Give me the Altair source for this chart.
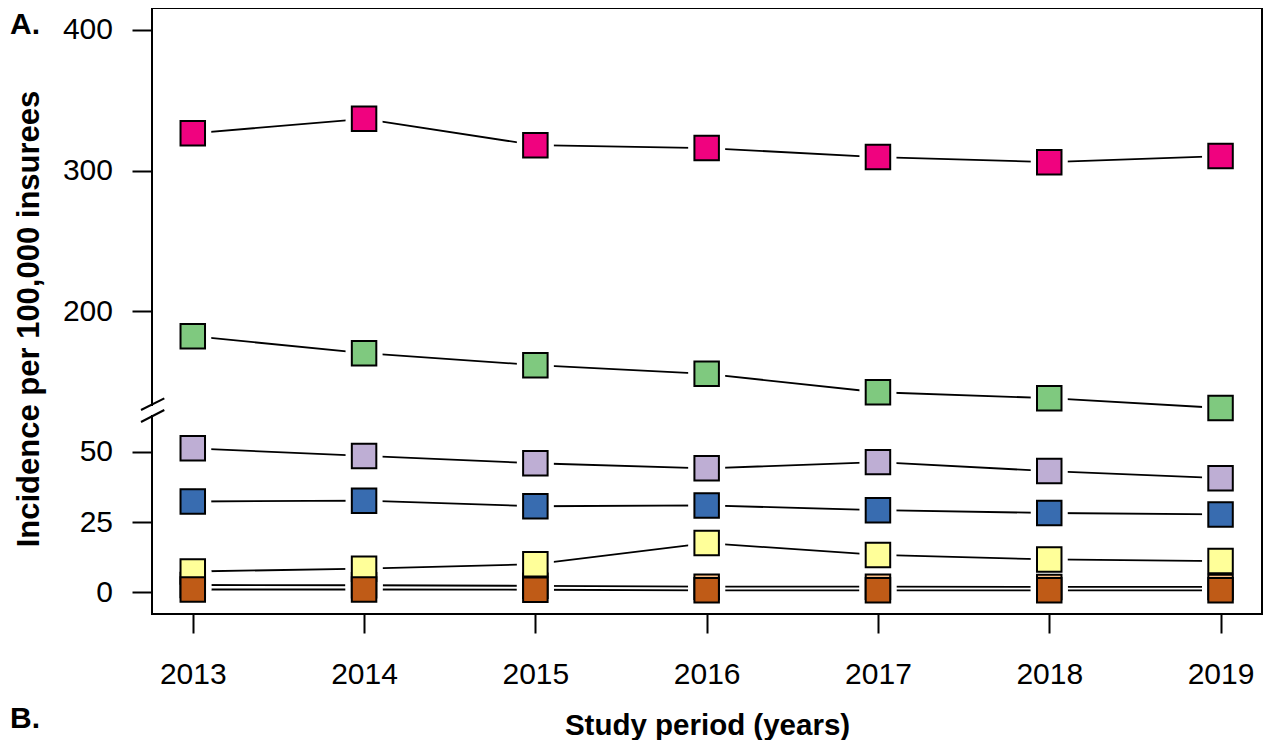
import altair as alt
import pandas as pd

# ---- data ----
years = [2013, 2014, 2015, 2016, 2017, 2018, 2019]
series_names = ["Series 1", "Series 2", "Series 3", "Series 4", "Series 5", "Series 6", "Series 7"]
series_colors = ["#F0027F", "#7FC97F", "#BEAED4", "#386CB0", "#FDC086", "#FFFF99", "#BF5B17"]
s1 = [326.5, 336.8, 318.1, 316.0, 309.6, 306.0, 310.3]
s2 = [182.2, 170.1, 161.6, 155.4, 142.3, 138.1, 131.1]
s3 = [51.2, 48.5, 45.9, 44.1, 46.3, 43.1, 40.6]
s4 = [32.3, 32.6, 30.6, 30.9, 29.2, 28.2, 27.7]
s5 = [2.6, 2.5, 2.3, 2.0, 2.0, 1.9, 1.9]
s6 = [7.4, 8.4, 10.0, 17.5, 13.3, 11.7, 11.1]
s7 = [1.0, 1.0, 0.9, 0.7, 0.7, 0.7, 0.7]
series_values = [s1, s2, s3, s4, s5, s6, s7]
y_tick_labels = [0, 25, 50, 200, 300, 400]
panel_labels = ["A.", "B."]

rows = []
for name, vals in zip(series_names, series_values):
    for yr, v in zip(years, vals):
        rows.append({"series": name, "year": yr, "value": v})
df = pd.DataFrame(rows)
one = pd.DataFrame({"k": [0]})

FONT = "Liberation Sans"
W, H = 1110, 606

# broken axis: values below 100 drawn at twice the scale
t_expr = "datum.value < 100 ? 2 * datum.value : datum.value"
y_tick_pos = [v * 2 if v < 100 else v for v in y_tick_labels]

x_scale = alt.Scale(domain=[2012.762, 2019.242], nice=False, zero=False)
y_scale = alt.Scale(domain=[-15.44, 415.65], nice=False, zero=False)

x_axis = alt.Axis(
    values=years, format="d", title="Study period (years)",
    labelFontSize=30, labelFont=FONT, labelColor="black", labelPadding=26,
    tickSize=19, tickWidth=2, tickColor="black", domain=False, grid=False,
    titleFontSize=29.5, titleFont=FONT, titleFontWeight="bold", titleColor="black",
    titleY=120, titleBaseline="alphabetic",
)
y_axis = alt.Axis(
    values=y_tick_pos, labelExpr="datum.value < 150 ? datum.value / 2 : datum.value",
    title="Incidence per 100,000 insurees",
    labelFontSize=30, labelFont=FONT, labelColor="black", labelPadding=19.5,
    tickSize=20, tickWidth=2, tickColor="black", domain=False, grid=False,
    titleFontSize=31, titleFont=FONT, titleFontWeight="bold", titleColor="black",
    titleX=-114, titleY=310.5, titleAngle=270, titleAlign="center",
    titleBaseline="alphabetic",
)

base = alt.Chart(df).transform_calculate(t=t_expr)

lines = base.mark_line(color="black", strokeWidth=1.8).encode(
    x=alt.X("year:Q", scale=x_scale, axis=x_axis),
    y=alt.Y("t:Q", scale=y_scale, axis=y_axis),
    detail="series:N",
)

gaps = base.mark_square(size=1369, color="white", opacity=1).encode(
    x=alt.X("year:Q", scale=x_scale),
    y=alt.Y("t:Q", scale=y_scale),
)

squares = base.mark_square(size=600, stroke="black", strokeWidth=2, opacity=1).encode(
    x=alt.X("year:Q", scale=x_scale),
    y=alt.Y("t:Q", scale=y_scale),
    fill=alt.Fill("series:N", scale=alt.Scale(domain=series_names, range=series_colors), legend=None),
)

# axis break marker
brk_bg = alt.Chart(one).mark_rule(color="white", strokeWidth=6).encode(
    x=alt.value(0), y=alt.value(398), y2=alt.value(407)
)
slash1 = alt.Chart(one).mark_rule(color="black", strokeWidth=2).encode(
    x=alt.value(-11), x2=alt.value(12.3), y=alt.value(402), y2=alt.value(390.3)
)
slash2 = alt.Chart(one).mark_rule(color="black", strokeWidth=2).encode(
    x=alt.value(-11), x2=alt.value(12.3), y=alt.value(414), y2=alt.value(402)
)

panel_a = alt.Chart(one).mark_text(
    text=panel_labels[0], fontSize=30, font=FONT, fontWeight="bold", align="left",
    baseline="top", color="black"
).encode(x=alt.value(-142), y=alt.value(2))

panel_b = alt.Chart(one).mark_text(
    text=panel_labels[1], fontSize=30, font=FONT, fontWeight="bold", align="left",
    baseline="alphabetic", color="black"
).encode(x=alt.value(-142), y=alt.value(720))

chart = alt.layer(lines, gaps, squares, brk_bg, slash1, slash2, panel_a, panel_b).properties(
    width=W, height=H,
    autosize=alt.AutoSizeParams(type="none"),
    padding={"left": 144, "top": 0, "right": 4, "bottom": 126},
).configure_view(stroke="black", strokeWidth=2)

chart.save("out.html", embed_options={"renderer": "svg", "actions": False})
